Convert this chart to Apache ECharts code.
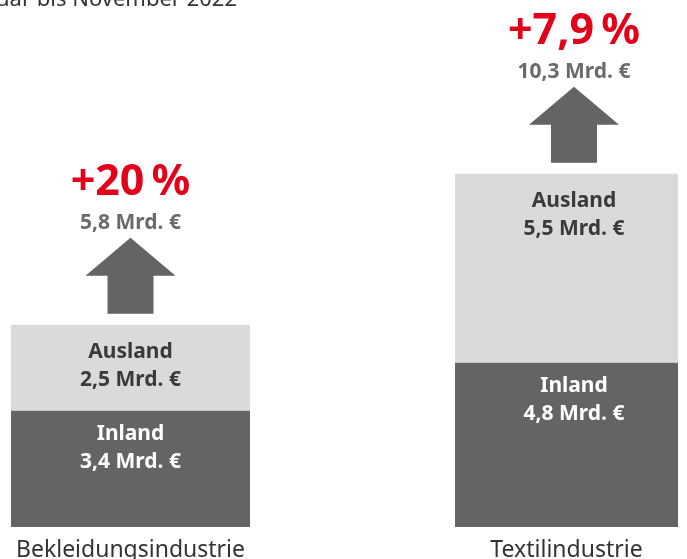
<!DOCTYPE html>
<html>
<head>
<meta charset="utf-8">
<script src="https://cdn.jsdelivr.net/npm/echarts@6/dist/echarts.min.js"></script>
<style>
  html, body { margin: 0; padding: 0; background: #fff; }
  #chart { width: 687px; height: 559px; }
</style>
</head>
<body>
<div id="chart"></div>
<script>
const categories = ['Bekleidungsindustrie', 'Textilindustrie'];
const inland = [3.4, 4.8];
const ausland = [2.5, 5.5];
const totals = [5.8, 10.3];
const growth = ['+20\u2009%', '+7,9\u2009%'];
const subtitle = 'Januar bis November 2022';

const FONT = '"Noto Sans", "Open Sans", sans-serif';
const DARK = '#636463';
const LIGHT = '#d9dada';
const RED = '#e3001b';

// one grid per industry, the bar fills its grid
const gridBoxes = [
  { left: 11, width: 239 },
  { left: 455, width: 223 },
];
// labels and arrow of the 2nd bar sit a bit right of the bar centre
const centerShift = [0, 7.5];

const fmt = (v) => v.toFixed(1).replace('.', ',') + ' Mrd. €';

const chart = echarts.init(document.getElementById('chart'));

// labels run off the bottom edge, so the grid must not shrink to hold them
const grid = gridBoxes.map((b) => ({
  left: b.left, width: b.width, top: 47, bottom: 32,
  containLabel: false, outerBoundsMode: 'none',
}));

const xAxis = categories.map((c, i) => ({
  type: 'category',
  gridIndex: i,
  data: [c],
  axisLine: { show: false },
  axisTick: { show: false },
  axisLabel: { color: '#333', fontFamily: FONT, fontSize: 23, margin: 12 },
}));

const yAxis = categories.map((c, i) => ({
  type: 'value', gridIndex: i, min: 0, max: 14, show: false,
}));

const series = [];
categories.forEach((c, i) => {
  const barLabel = (color, dist) => ({
    show: true,
    position: 'insideTop',
    distance: dist,
    offset: [centerShift[i], 0],
    formatter: (p) => p.seriesName + '\n' + fmt(p.value),
    color: color,
    fontFamily: FONT,
    fontWeight: 'bold',
    fontSize: 21,
    lineHeight: 28,
  });
  series.push({
    name: 'Inland', type: 'bar', stack: 'st' + i, xAxisIndex: i, yAxisIndex: i,
    barWidth: '100%', silent: true,
    itemStyle: { color: DARK },
    label: barLabel('#ffffff', 10),
    data: [inland[i]],
  });
  series.push({
    name: 'Ausland', type: 'bar', stack: 'st' + i, xAxisIndex: i, yAxisIndex: i,
    barWidth: '100%', silent: true,
    itemStyle: { color: LIGHT },
    label: barLabel('#3a3a3a', 13),
    data: [ausland[i]],
  });
  // arrow with growth figures above the stacked bar
  series.push({
    type: 'custom', xAxisIndex: i, yAxisIndex: i, silent: true,
    data: [[0, inland[i] + ausland[i]]],
    renderItem: (params, api) => {
      const p = api.coord([api.value(0), api.value(1)]);
      const cx = p[0] + centerShift[i];
      const base = p[1] - 11;
      const tip = base - 76;
      const neck = tip + 38;
      return {
        type: 'group',
        children: [
          {
            type: 'polygon',
            shape: {
              points: [
                [cx - 23, base], [cx - 23, neck], [cx - 45, neck], [cx, tip],
                [cx + 45, neck], [cx + 23, neck], [cx + 23, base],
              ],
            },
            style: { fill: DARK },
          },
          {
            type: 'text',
            style: {
              text: fmt(totals[i]), x: cx, y: tip - 15,
              align: 'center', verticalAlign: 'middle',
              fontFamily: FONT, fontWeight: 'bold', fontSize: 21, fill: '#6b6b6b',
            },
          },
          {
            type: 'text',
            style: {
              text: growth[i], x: cx, y: tip - 55,
              align: 'center', verticalAlign: 'middle',
              fontFamily: FONT, fontWeight: 'bold', fontSize: 43, fill: RED,
            },
          },
        ],
      };
    },
  });
});

chart.setOption({
  animation: false,
  grid: grid,
  xAxis: xAxis,
  yAxis: yAxis,
  series: series,
  graphic: [
    {
      type: 'text', x: 237, y: 0, silent: true,
      style: {
        text: subtitle, align: 'right', verticalAlign: 'middle',
        fontFamily: FONT, fontSize: 22, fill: '#333',
      },
    },
  ],
});

window.addEventListener('resize', () => chart.resize());
</script>
</body>
</html>
